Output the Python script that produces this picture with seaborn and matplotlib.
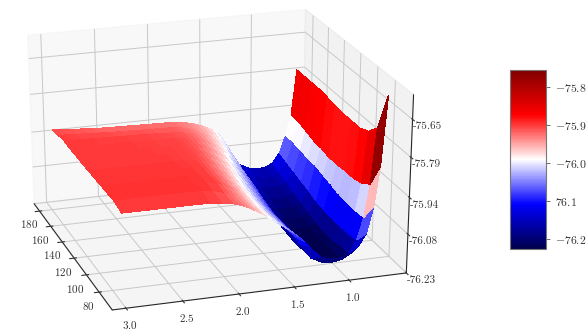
import matplotlib
matplotlib.use("Agg")
import matplotlib.pyplot as plt
import numpy as np
import seaborn as sns

angles = [69, 80, 90, 100, 110, 120, 130, 140, 150, 160, 170, 180]
bond_r = [0.62, 0.67, 0.72, 0.78, 0.85, 0.92, 1.0, 1.1, 1.2, 1.3, 1.35, 1.4, 1.45, 1.5, 1.55, 1.6, 1.65, 1.7,
          1.75, 1.8, 1.85, 1.9, 1.95, 2.0, 2.1, 2.2, 2.3, 2.4, 2.5, 2.6, 2.7, 2.8, 2.9, 2.97]

e_69 = [-75.58, -75.84, -75.99, -76.09, -76.135, -76.16, -76.172, -76.172, -76.16, -76.115, -76.092, -76.072, -76.054, -76.038, -76.023, -76.008, -75.993, -75.978,
        -75.965, -75.952, -75.941, -75.931, -75.923, -75.917, -75.91, -75.906, -75.905, -75.905, -75.905, -75.905, -75.905, -75.905, -75.905, -75.905]
e_80 = [-75.73, -75.94, -76.065, -76.15, -76.2, -76.22, -76.225, -76.22, -76.2, -76.14, -76.11, -76.085, -76.064, -76.046, -76.029, -76.012, -75.997, -75.982,
        -75.968, -75.955, -75.943, -75.932, -75.922, -75.913, -75.901, -75.896, -75.894, -75.894, -75.894, -75.894, -75.894, -75.894, -75.895, -75.895]
e_90 = [-75.77, -75.965, -76.07, -76.157, -76.2, -76.22, -76.225, -76.22, -76.20, -76.135, -76.108, -76.085, -76.064, -76.046, -76.028, -76.011, -75.995, -75.979,
        -75.964, -75.95, -75.937, -75.925, -75.914, -75.905, -75.896, -75.896, -75.896, -75.896, -75.896, -75.896, -75.896, -75.896, -75.896, -75.896]
e_100 = [-75.785, -75.975, -76.07, -76.16, -76.21, -76.228, -76.23, -76.225, -76.205, -76.14, -76.11, -76.085, -76.064, -76.045, -76.026, -76.008, -75.992, -75.976,
         -75.961, -75.947, -75.934, -75.923, -75.913, -75.905, -75.898, -75.897, -75.897, -75.897, -75.897, -75.897, -75.897, -75.897, -75.897, -75.897]
e_110 = [-75.785, -75.975, -76.068, -76.16, -76.21, -76.225, -76.228, -76.22, -76.20, -76.135, -76.105, -76.08, -76.058, -76.038, -76.02, -76.002, -75.986, -75.97,
         -75.955, -75.942, -75.93, -75.92, -75.911, -75.904, -75.899, -75.898, -75.898, -75.898, -75.898, -75.898, -75.898, -75.898, -75.898, -75.898]
e_120 = [-75.785, -75.98, -76.058, -76.157, -76.205, -76.22, -76.222, -76.215, -76.195, -76.125, -76.095, -76.07, -76.048, -76.028, -76.01, -75.993, -75.977, -75.962,
         -75.948, -75.936, -75.925, -75.916, -75.908, -75.903, -75.9, -75.899, -75.899, -75.899, -75.899, -75.899, -75.899, -75.899, -75.899, -75.899]
e_130 = [-75.78, -75.98, -76.05, -76.152, -76.195, -76.21, -76.213, -76.205, -76.185, -76.115, -76.085, -76.06, -76.038, -76.018, -76.00, -75.983, -75.968, -75.954,
         -75.942, -75.93, -75.92, -75.912, -75.907, -75.904, -75.902, -75.901, -75.9, -75.9, -75.9, -75.9, -75.9, -75.9, -75.9, -75.9]
e_140 = [-75.775, -75.975, -76.04, -76.14, -76.185, -76.2, -76.203, -76.195, -76.175, -76.10, -76.07, -76.045, -76.025, -76.005, -75.988, -75.972, -75.958, -75.945,
         -75.934, -75.924, -75.916, -75.91, -75.906, -75.904, -75.903, -75.902, -75.901, -75.9, -75.9, -75.9, -75.9, -75.9, -75.9, -75.9]
e_150 = [-75.77, -75.97, -76.04, -76.13, -76.175, -76.19, -76.193, -76.185, -76.165, -76.095, -76.06, -76.03, -76.01, -75.99, -75.975, -75.96, -75.948, -75.937,
         -75.928, -75.92, -75.914, -75.909, -75.906, -75.904, -75.903, -75.902, -75.901, -75.9, -75.9, -75.9, -75.9, -75.9, -75.9, -75.9]
e_160 = [-75.77, -75.96, -76.035, -76.12, -76.16, -76.175, -76.178, -76.17, -76.15, -76.08, -76.045, -76.015, -75.995, -75.98, -75.965, -75.952, -75.942, -75.933,
         -75.926, -75.92, -75.916, -75.913, -75.911, -75.91, -75.908, -75.906, -75.905, -75.904, -75.903, -75.902, -75.901, -75.90, -75.899, -75.898]
e_170 = [-75.77, -75.95, -76.03, -76.11, -76.15, -76.163, -76.167, -76.158, -76.135, -76.065, -76.03, -76.00, -75.985, -75.97, -75.96, -75.95, -75.943, -75.936,
         -75.93, -75.926, -75.923, -75.921, -75.92, -75.919, -75.918, -75.917, -75.916, -75.915, -75.913, -75.911, -75.909, -75.907, -75.905, -75.904]
e_180 = [-75.77, -75.95, -76.03, -76.10, -76.14, -76.153, -76.157, -76.148, -76.125, -76.055, -76.015, -75.99, -75.975, -75.965, -75.955, -75.948, -75.942, -75.937,
         -75.934, -75.932, -75.93, -75.929, -75.928, -75.928, -75.927, -75.926, -75.925, -75.924, -75.923, -75.921, -75.918, -75.915, -75.912, -75.91]

angle_ticks = [80, 100, 120, 140, 160, 180]
r_ticks = [1.0, 1.5, 2.0, 2.5, 3.0]
e_ticks = [-76.23, -76.08, -75.94, -75.79, -75.65]
e_labels = ["-76.23", "-76.08", "-75.94", "-75.79", "-75.65"]
cbar_ticks = [-76.2, -76.1, -76.0, -75.9, -75.8]
cbar_labels = ["$-76.2$", "$76.1$", "$-76.0$", "$-75.9$", "$-75.8$"]

sns.set_style("white")
plt.rcParams["font.family"] = ["cmr10", "DejaVu Serif"]
plt.rcParams["mathtext.fontset"] = "cm"
plt.rcParams["axes.unicode_minus"] = False
plt.rcParams["axes.formatter.use_mathtext"] = True

energy = np.array([e_69, e_80, e_90, e_100, e_110, e_120, e_130, e_140, e_150,
                   e_160, e_170, e_180])
aa, rr = np.meshgrid(angles, bond_r, indexing="ij")

fig = plt.figure(figsize=(5.87, 3.33), dpi=100)
ax = fig.add_axes([-0.044, -0.06, 0.795, 1.175], projection="3d")
# the reference box is stretched to fill its axes, not kept square
ax.apply_aspect = lambda position=None: ax._set_position(ax.get_position(original=True), "active")
surf = ax.plot_surface(aa, rr, energy, cmap=sns.color_palette("seismic", as_cmap=True),
                       rstride=1, cstride=1, linewidth=0, antialiased=False,
                       vmin=-76.226, vmax=-75.755)
ax.view_init(elev=23.5, azim=162)
ax.set_xlim(60, 190)
ax.set_ylim(0.47, 3.12)
ax.set_zlim(-76.23, -75.56)
ax.set_xticks(angle_ticks)
ax.set_yticks(r_ticks)
ax.set_zticks(e_ticks)
ax.set_zticklabels(e_labels)
ax.tick_params(labelsize=8, pad=-2, colors="#333333")
for axis in (ax.xaxis, ax.yaxis, ax.zaxis):
    axis._axinfo["grid"]["color"] = "#c8c8c8"
    axis._axinfo["grid"]["linewidth"] = 0.7
ax.grid(True)

cax = fig.add_axes([510 / 587, 84 / 333, 36 / 587, 179 / 333])
cbar = fig.colorbar(surf, cax=cax)
cbar.set_ticks(cbar_ticks)
cbar.set_ticklabels(cbar_labels)
cbar.ax.tick_params(labelsize=8.5, length=3, width=0.6, color="#555555", labelcolor="#333333")
cbar.outline.set_edgecolor("#777777")
cbar.outline.set_linewidth(0.8)

fig.savefig("out.png", dpi=100)
